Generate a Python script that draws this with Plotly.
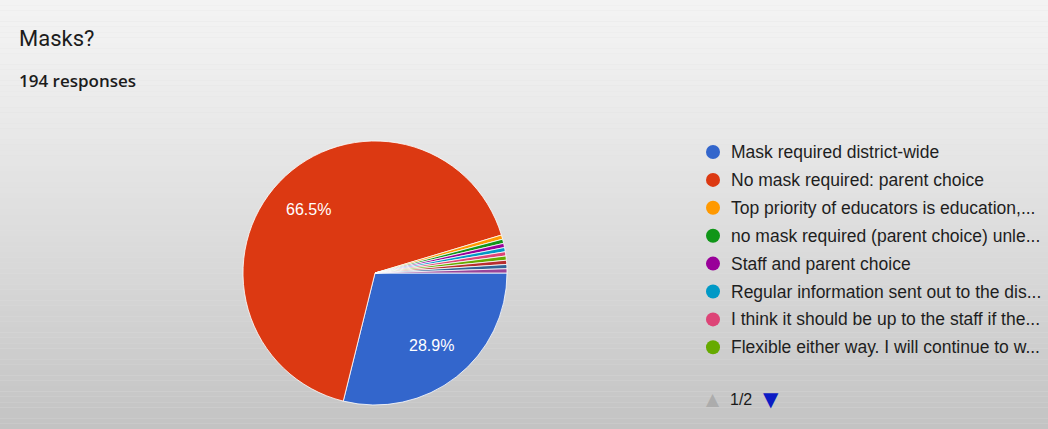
import math
import plotly.graph_objects as go

# ---- data ----
title_text = "Masks?"
responses_text = "194 responses"
labels = [
    "Mask required district-wide",
    "No mask required: parent choice",
    "Top priority of educators is education,...",
    "no mask required (parent choice) unle...",
    "Staff and parent choice",
    "Regular information sent out to the dis...",
    "I think it should be up to the staff if the...",
    "Flexible either way. I will continue to w...",
    "Other response 9",
    "Other response 10",
    "Other response 11",
]
values = [56, 129, 1, 1, 1, 1, 1, 1, 1, 1, 1]
colors = ["#3366cc", "#dc3912", "#ff9900", "#109618", "#990099", "#0099c6",
          "#dd4477", "#66aa00", "#b82e2e", "#316395", "#994499"]
legend_page = "1/2"
legend_per_page = 8

W, H = 1048, 429
total = sum(values)

# pie geometry (pixels)
pcx, pcy, pr = 375, 273, 132
start_deg = 0  # 3 o'clock, clockwise

fig = go.Figure()
fig.add_trace(go.Pie(
    labels=labels, values=values, textinfo="none",
    sort=False, direction="clockwise", rotation=90 + start_deg,
    marker=dict(colors=colors, line=dict(color="#ffffff", width=0.8)),
    domain=dict(x=[(pcx - pr) / W, (pcx + pr) / W],
                y=[(H - pcy - pr) / H, (H - pcy + pr) / H]),
    showlegend=False, hoverinfo="label+value+percent",
))

shapes = []
n = 80
top = (243, 243, 243)
bot = (195, 195, 195)
for i in range(n):
    t = (i / (n - 1)) ** 1.25
    c = tuple(int(round(top[k] + (bot[k] - top[k]) * t)) for k in range(3))
    shapes.append(dict(type="rect", xref="paper", yref="paper",
                       x0=0, x1=1, y0=1 - (i + 1) / n, y1=1 - i / n,
                       fillcolor=f"rgb{c}", line=dict(width=0), layer="below"))

annotations = [
    dict(text=title_text, x=17 / W, y=1 - 38 / H, xref="paper", yref="paper",
         xanchor="left", yanchor="middle", showarrow=False,
         font=dict(family="Roboto", size=22, color="#1c1c1c")),
    dict(text=responses_text, x=17 / W, y=1 - 80 / H, xref="paper", yref="paper",
         xanchor="left", yanchor="middle", showarrow=False,
         font=dict(family="Open Sans", size=17, color="#1c1c1c", weight=600)),
]

# percentage labels computed from data (Google Charts style placement)
cum = 0
for v in values:
    frac = v / total
    if frac > 0.05:
        mid = math.radians(start_deg + (cum + v / 2) / total * 360)
        lx = pcx + 0.7 * pr * math.cos(mid)
        ly = pcy + 0.7 * pr * math.sin(mid)
        annotations.append(dict(text=f"{frac * 100:.1f}%", x=lx / W, y=1 - ly / H,
                                xref="paper", yref="paper", showarrow=False,
                                xanchor="center", yanchor="middle",
                                font=dict(family="Liberation Sans, Arial", size=16,
                                          color="#ffffff")))
    cum += v

# custom legend (first page)
row0, dy = 152, 27.9
cx, r = 713, 7
for i in range(legend_per_page):
    yy = row0 + i * dy
    shapes.append(dict(type="circle", xref="paper", yref="paper",
                       x0=(cx - r) / W, x1=(cx + r) / W,
                       y0=1 - (yy + r) / H, y1=1 - (yy - r) / H,
                       fillcolor=colors[i], line=dict(width=0)))
    annotations.append(dict(text=labels[i], x=729 / W, y=1 - yy / H,
                            xref="paper", yref="paper", xanchor="left",
                            yanchor="middle", showarrow=False,
                            font=dict(family="Liberation Sans, Arial", size=17.5,
                                      color="#1e1e1e")))

# pager
py = 399
annotations += [
    dict(text="▲", x=713 / W, y=1 - py / H, xref="paper", yref="paper",
         xanchor="center", yanchor="middle",
         showarrow=False, font=dict(family="DejaVu Sans", size=17, color="#acacac")),
    dict(text=legend_page, x=741 / W, y=1 - py / H, xref="paper", yref="paper",
         xanchor="center", yanchor="middle",
         showarrow=False, font=dict(family="Liberation Sans, Arial", size=16, color="#1a1a1a")),
    dict(text="▼", x=771 / W, y=1 - py / H, xref="paper", yref="paper",
         xanchor="center", yanchor="middle",
         showarrow=False, font=dict(family="DejaVu Sans", size=20, color="#0b1bc4")),
]

fig.update_layout(
    width=W, height=H, margin=dict(l=0, r=0, t=0, b=0),
    paper_bgcolor="#e0e0e0", plot_bgcolor="#e0e0e0",
    shapes=shapes, annotations=annotations,
)
fig.write_html("out.html", config={"displayModeBar": False},
               post_script="document.body.style.margin='0px';")
